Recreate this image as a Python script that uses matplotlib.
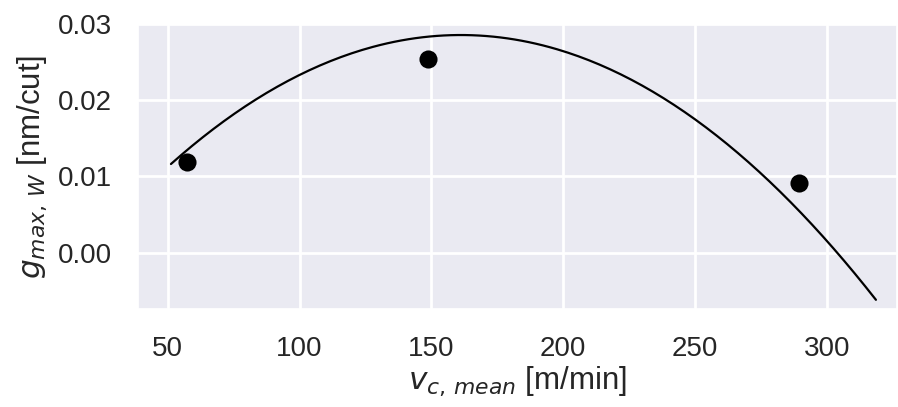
import numpy as np
import matplotlib
matplotlib.use("Agg")
import matplotlib.pyplot as plt
import seaborn as sns
from matplotlib.ticker import FormatStrFormatter

# measured points
vc_mean = [57.4, 148.9, 289.6]
g_max = [0.01192, 0.0254, 0.00909]

# fit curve
curve_v = [51.2, 100.0, 150.0, 160.9, 176.0, 200.0, 250.0, 300.0, 318.7]
curve_g = [0.01162, 0.02328, 0.02837, 0.02859, 0.02837, 0.02641, 0.01749, 0.00125, -0.00593]

sns.set_theme(style="darkgrid")
plt.rcParams['font.family'] = ['Liberation Sans', 'DejaVu Sans']

fig, ax = plt.subplots(figsize=(8.98, 4.07), dpi=100)
fig.subplots_adjust(left=0.1537, right=0.9989, top=0.941, bottom=0.240)

coef = np.polyfit(curve_v, curve_g, 2)
xs = np.linspace(curve_v[0], curve_v[-1], 200)
ax.plot(xs, np.polyval(coef, xs), color='black', lw=1.6)
ax.scatter(vc_mean, g_max, s=170, color='black', zorder=3, linewidths=0)

ax.set_xlim(38.7, 326.7)
ax.set_ylim(-0.00744, 0.0299)
ax.set_xticks([50, 100, 150, 200, 250, 300])
ax.set_yticks([0.0, 0.01, 0.02, 0.03])
ax.yaxis.set_major_formatter(FormatStrFormatter('%.2f'))
ax.tick_params(labelsize=20, colors='#262626', length=0)
ax.tick_params(axis='x', pad=19)
ax.tick_params(axis='y', pad=19)
ax.grid(color='white', lw=2)

ax.set_xlabel(r'$v_{c,\,mean}$ [m/min]', fontsize=22.5, color='#262626', labelpad=2)
ax.set_ylabel(r'$g_{max,\,W}$ [nm/cut]', fontsize=22.5, color='#262626', labelpad=6)

fig.savefig("out.png", dpi=100)
